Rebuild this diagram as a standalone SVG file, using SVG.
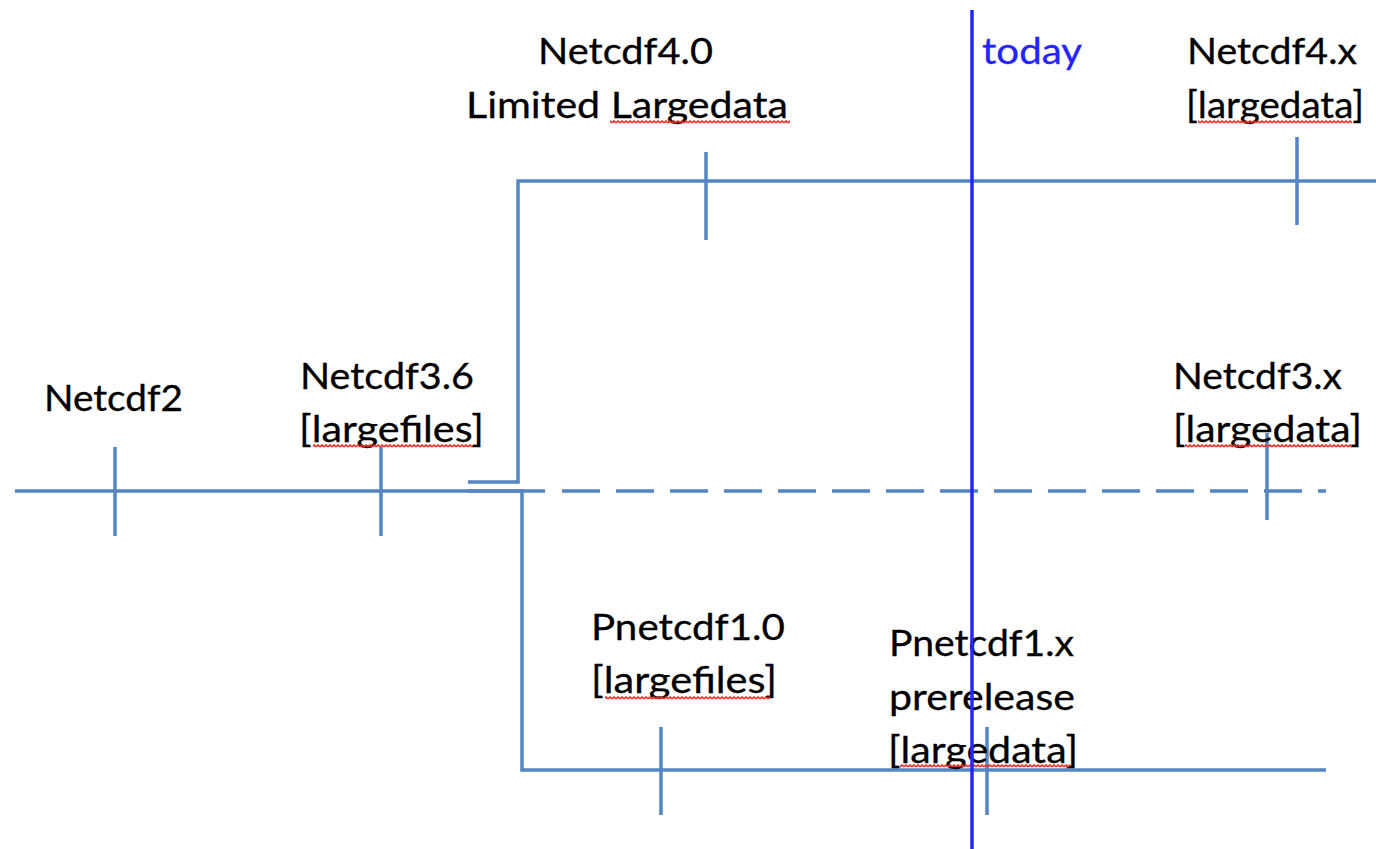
<svg xmlns="http://www.w3.org/2000/svg" width="1376" height="849" viewBox="0 0 1376 849">
<style>
.ln{fill:none;stroke:#5585c2;stroke-width:3.5;}
.t{font-family:Lato,"Carlito","Open Sans",sans-serif;font-size:37px;fill:#000;stroke:#000;stroke-width:0.3;}
.today{fill:#2424ff;stroke:#2424ff;}
</style>
<defs>
<pattern id="sq" width="4" height="4" patternUnits="userSpaceOnUse">
<path d="M0,3 L2,1 L4,3" stroke="#e8322a" stroke-width="1.6" fill="none"/>
</pattern>
</defs>
<rect width="1376" height="849" fill="#fff"/>
<g id="connectors">
<path class="ln" d="M15,491 H545"/>
<path class="ln" d="M562,491 H1326" stroke-dasharray="38 16"/>
<path class="ln" d="M468,482 H518 V181 H1376"/>
<path class="ln" d="M468,491 H522 V770 H1326"/>
</g>
<g id="netcdf2">
<path class="ln" d="M115,447 V536"/>
<text class="t" x="44" y="411" textLength="139" lengthAdjust="spacingAndGlyphs">Netcdf2</text>
</g>
<g id="netcdf36">
<path class="ln" d="M381,447 V536"/>
<text class="t" x="300" y="389" textLength="174" lengthAdjust="spacingAndGlyphs">Netcdf3.6</text>
<text class="t" x="299" y="442" textLength="185" lengthAdjust="spacingAndGlyphs">[largefiles]</text>
<rect x="313" y="444" width="160" height="4" fill="url(#sq)"/>
</g>
<g id="netcdf40">
<path class="ln" d="M706,152 V240"/>
<text class="t" x="538" y="64" textLength="175" lengthAdjust="spacingAndGlyphs">Netcdf4.0</text>
<text class="t" x="466" y="118" textLength="322" lengthAdjust="spacingAndGlyphs">Limited Largedata</text>
<rect x="610" y="120" width="180" height="4" fill="url(#sq)"/>
</g>
<g id="netcdf4x">
<path class="ln" d="M1297,137 V225"/>
<text class="t" x="1187" y="64" textLength="170" lengthAdjust="spacingAndGlyphs">Netcdf4.x</text>
<text class="t" x="1186" y="118" textLength="178" lengthAdjust="spacingAndGlyphs">[largedata]</text>
<rect x="1198" y="120" width="154" height="4" fill="url(#sq)"/>
</g>
<g id="netcdf3x">
<path class="ln" d="M1267,433 V520"/>
<text class="t" x="1173" y="389" textLength="169" lengthAdjust="spacingAndGlyphs">Netcdf3.x</text>
<text class="t" x="1173" y="442" textLength="189" lengthAdjust="spacingAndGlyphs">[largedata]</text>
<rect x="1185" y="444" width="167" height="4" fill="url(#sq)"/>
</g>
<g id="pnetcdf10">
<path class="ln" d="M661,727 V815"/>
<text class="t" x="591" y="640" textLength="194" lengthAdjust="spacingAndGlyphs">Pnetcdf1.0</text>
<text class="t" x="591" y="693" textLength="186" lengthAdjust="spacingAndGlyphs">[largefiles]</text>
<rect x="605" y="696" width="165" height="4" fill="url(#sq)"/>
</g>
<g id="pnetcdf1x">
<path class="ln" d="M987,727 V815"/>
<text class="t" x="889" y="656" textLength="185" lengthAdjust="spacingAndGlyphs">Pnetcdf1.x</text>
<text class="t" x="889" y="710" textLength="186" lengthAdjust="spacingAndGlyphs">prerelease</text>
<text class="t" x="888" y="763" textLength="190" lengthAdjust="spacingAndGlyphs">[largedata]</text>
<rect x="900" y="764" width="170" height="4" fill="url(#sq)"/>
</g>
<g id="today">
<path d="M972,10 V849" fill="none" stroke="#2424ff" stroke-width="3.5"/>
<text class="t today" x="982" y="64" textLength="100" lengthAdjust="spacingAndGlyphs">today</text>
</g>
</svg>
